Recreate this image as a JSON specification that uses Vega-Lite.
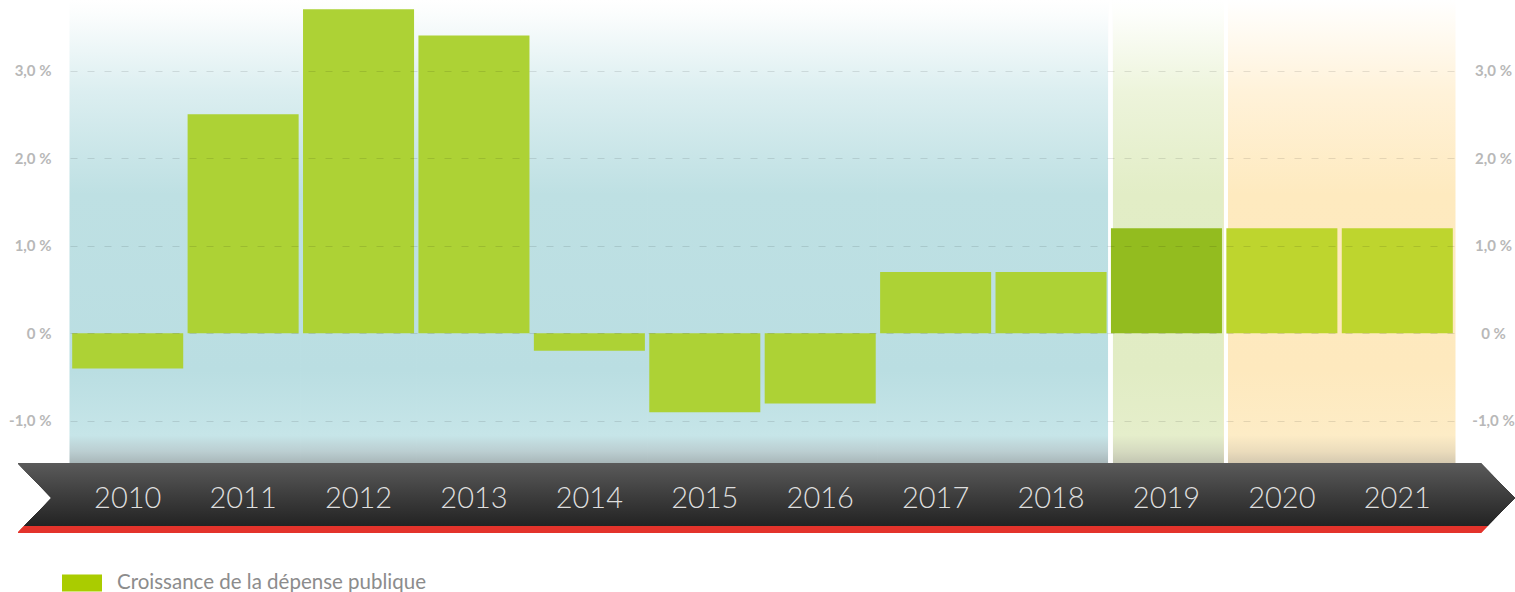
{
  "$schema": "https://vega.github.io/schema/vega-lite/v6.json",
  "width": 1385,
  "height": 463,
  "autosize": "none",
  "padding": {"left": 70, "top": 0, "right": 60, "bottom": 129},
  "background": "white",
  "config": {
    "view": {"stroke": null},
    "font": "Lato",
    "axisX": {"disable": true}
  },
  "data": {
    "values": [
      {"year": "2010", "value": -0.4, "period": "exécuté", "series": "Croissance de la dépense publique"},
      {"year": "2011", "value": 2.5, "period": "exécuté", "series": "Croissance de la dépense publique"},
      {"year": "2012", "value": 3.7, "period": "exécuté", "series": "Croissance de la dépense publique"},
      {"year": "2013", "value": 3.4, "period": "exécuté", "series": "Croissance de la dépense publique"},
      {"year": "2014", "value": -0.2, "period": "exécuté", "series": "Croissance de la dépense publique"},
      {"year": "2015", "value": -0.9, "period": "exécuté", "series": "Croissance de la dépense publique"},
      {"year": "2016", "value": -0.8, "period": "exécuté", "series": "Croissance de la dépense publique"},
      {"year": "2017", "value": 0.7, "period": "exécuté", "series": "Croissance de la dépense publique"},
      {"year": "2018", "value": 0.7, "period": "exécuté", "series": "Croissance de la dépense publique"},
      {"year": "2019", "value": 1.2, "period": "estimé", "series": "Croissance de la dépense publique"},
      {"year": "2020", "value": 1.2, "period": "prévu", "series": "Croissance de la dépense publique"},
      {"year": "2021", "value": 1.2, "period": "prévu", "series": "Croissance de la dépense publique"}
    ]
  },
  "encoding": {
    "x": {
      "field": "year",
      "type": "ordinal",
      "title": null,
      "scale": {"paddingInner": 0, "paddingOuter": 0}
    }
  },
  "layer": [
    {
      "transform": [{"filter": "datum.period == 'exécuté'"}],
      "mark": {
        "type": "rect",
        "strokeWidth": 1,
        "fill": {
          "gradient": "linear", "x1": 0, "y1": 0, "x2": 0, "y2": 1,
          "stops": [
            {"offset": 0, "color": "#ffffff"},
            {"offset": 0.03, "color": "#fbfdfd"},
            {"offset": 0.2, "color": "#dbeef0"},
            {"offset": 0.42, "color": "#bee0e3"},
            {"offset": 0.8, "color": "#badee2"},
            {"offset": 0.94, "color": "#c6e5e8"},
            {"offset": 0.975, "color": "#bbced1"},
            {"offset": 1, "color": "#a8b7b9"}
          ]
        },
        "stroke": {
          "gradient": "linear", "x1": 0, "y1": 0, "x2": 0, "y2": 1,
          "stops": [
            {"offset": 0, "color": "#ffffff"},
            {"offset": 0.03, "color": "#fbfdfd"},
            {"offset": 0.2, "color": "#dbeef0"},
            {"offset": 0.42, "color": "#bee0e3"},
            {"offset": 0.8, "color": "#badee2"},
            {"offset": 0.94, "color": "#c6e5e8"},
            {"offset": 0.975, "color": "#bbced1"},
            {"offset": 1, "color": "#a8b7b9"}
          ]
        }
      },
      "encoding": {
        "y": {"datum": 3.805, "type": "quantitative", "scale": {"domain": [-1.48, 3.805], "nice": false, "zero": false}, "axis": null},
        "y2": {"datum": -1.48}
      }
    },
    {
      "transform": [{"filter": "datum.period == 'estimé'"}],
      "mark": {
        "type": "rect",
        "fill": {
          "gradient": "linear", "x1": 0, "y1": 0, "x2": 0, "y2": 1,
          "stops": [
            {"offset": 0, "color": "#ffffff"},
            {"offset": 0.03, "color": "#fdfefb"},
            {"offset": 0.2, "color": "#edf4db"},
            {"offset": 0.42, "color": "#e2edc6"},
            {"offset": 0.8, "color": "#e1ecc4"},
            {"offset": 0.94, "color": "#e5eecb"},
            {"offset": 0.975, "color": "#d5dac0"},
            {"offset": 1, "color": "#c3c6b2"}
          ]
        }
      },
      "encoding": {
        "y": {"datum": 3.805, "type": "quantitative", "axis": null},
        "y2": {"datum": -1.48}
      }
    },
    {
      "transform": [{"filter": "datum.period == 'prévu'"}],
      "mark": {
        "type": "rect",
        "strokeWidth": 1,
        "fill": {
          "gradient": "linear", "x1": 0, "y1": 0, "x2": 0, "y2": 1,
          "stops": [
            {"offset": 0, "color": "#ffffff"},
            {"offset": 0.03, "color": "#fffdf9"},
            {"offset": 0.2, "color": "#fff2d9"},
            {"offset": 0.42, "color": "#feeabf"},
            {"offset": 0.8, "color": "#fee9be"},
            {"offset": 0.94, "color": "#fdecc6"},
            {"offset": 0.975, "color": "#ebdcbc"},
            {"offset": 1, "color": "#d5c9b0"}
          ]
        },
        "stroke": {
          "gradient": "linear", "x1": 0, "y1": 0, "x2": 0, "y2": 1,
          "stops": [
            {"offset": 0, "color": "#ffffff"},
            {"offset": 0.03, "color": "#fffdf9"},
            {"offset": 0.2, "color": "#fff2d9"},
            {"offset": 0.42, "color": "#feeabf"},
            {"offset": 0.8, "color": "#fee9be"},
            {"offset": 0.94, "color": "#fdecc6"},
            {"offset": 0.975, "color": "#ebdcbc"},
            {"offset": 1, "color": "#d5c9b0"}
          ]
        }
      },
      "encoding": {
        "y": {"datum": 3.805, "type": "quantitative", "axis": null},
        "y2": {"datum": -1.48}
      }
    },
    {
      "mark": {"type": "rule", "color": "#ffffff", "strokeWidth": 3.5, "xOffset": 1.75},
      "encoding": {
        "x": {"datum": "2019", "type": "ordinal", "bandPosition": 0, "title": null},
        "y": {"datum": 3.805, "type": "quantitative", "axis": null},
        "y2": {"datum": -1.48}
      }
    },
    {
      "mark": {"type": "rule", "color": "#ffffff", "strokeWidth": 3.5, "xOffset": 1.75},
      "encoding": {
        "x": {"datum": "2020", "type": "ordinal", "bandPosition": 0, "title": null},
        "y": {"datum": 3.805, "type": "quantitative", "axis": null},
        "y2": {"datum": -1.48}
      }
    },
    {
      "mark": {"type": "bar", "width": {"band": 0.962}},
      "encoding": {
        "y": {
          "field": "value",
          "type": "quantitative",
          "axis": {
            "orient": "left",
            "values": [-1, 0, 1, 2, 3],
            "labelExpr": "datum.value == 0 ? '0 %' : replace((datum.value < 0 ? '-' : '') + format(abs(datum.value), '.1f'), '.', ',') + ' %'",
            "grid": true,
            "gridDash": [7, 10],
            "gridColor": "#000000",
            "gridOpacity": 0.1,
            "domain": false,
            "ticks": false,
            "tickSize": 0,
            "labelPadding": 19,
            "labelFontSize": 15,
            "labelFontWeight": "bold",
            "labelColor": "#b8b8b8",
            "labelFont": "Lato",
            "title": null,
            "zindex": 1
          }
        },
        "color": {
          "field": "period",
          "type": "nominal",
          "scale": {"domain": ["exécuté", "estimé", "prévu"], "range": ["#add235", "#93bc1f", "#bed52e"]},
          "legend": null
        }
      }
    },
    {
      "mark": {"type": "rule", "opacity": 0},
      "encoding": {
        "y": {
          "field": "value",
          "type": "quantitative",
          "axis": {
            "orient": "right",
            "values": [-1, 0, 1, 2, 3],
            "labelExpr": "datum.value == 0 ? '0 %' : replace((datum.value < 0 ? '-' : '') + format(abs(datum.value), '.1f'), '.', ',') + ' %'",
            "grid": false,
            "domain": false,
            "ticks": false,
            "tickSize": 0,
            "labelPadding": 38,
            "labelAlign": "center",
            "labelFontSize": 15,
            "labelFontWeight": "bold",
            "labelColor": "#b8b8b8",
            "labelFont": "Lato",
            "title": null
          }
        }
      }
    },
    {
      "mark": {"type": "square", "opacity": 0, "size": 0},
      "encoding": {
        "y": {"datum": 0, "type": "quantitative", "axis": null},
        "fill": {
          "field": "series",
          "type": "nominal",
          "scale": {"range": ["#aacc00"]},
          "legend": {
            "orient": "none",
            "legendX": -8,
            "legendY": 563,
            "title": null,
            "padding": 0,
            "symbolType": "M-1,-0.42L1,-0.42L1,0.42L-1,0.42Z",
            "symbolSize": 1600,
            "symbolOpacity": 1,
            "symbolStrokeWidth": 0,
            "labelFontSize": 20.5,
            "labelColor": "#8c8c8c",
            "labelFont": "Lato",
            "labelOffset": 15,
            "labelLimit": 600
          }
        }
      }
    },
    {
      "mark": {
        "type": "point",
        "filled": true,
        "opacity": 1,
        "size": 4816,
        "shape": "M-21.46,-1L20.7,-1L21.68,0L20.7,1L-21.46,1L-20.49,0Z",
        "fill": {
          "gradient": "linear", "x1": 0, "y1": 0, "x2": 0, "y2": 1,
          "stops": [
            {"offset": 0, "color": "#5a5a5a"},
            {"offset": 0.45, "color": "#3e3e3e"},
            {"offset": 0.9, "color": "#232323"},
            {"offset": 0.905, "color": "#e3332b"},
            {"offset": 1, "color": "#e3332b"}
          ]
        }
      },
      "encoding": {
        "x": {"datum": "2015", "type": "ordinal", "bandPosition": 1, "title": null},
        "y": {"datum": -1.88, "type": "quantitative", "axis": null}
      }
    },
    {
      "mark": {"type": "text", "font": "Lato", "fontSize": 29, "fontWeight": 300, "color": "#dedede", "baseline": "middle", "align": "center", "dy": 1},
      "encoding": {
        "y": {"datum": -1.88, "type": "quantitative", "axis": null},
        "text": {"field": "year"}
      }
    }
  ],
  "resolve": {"scale": {"color": "independent", "fill": "independent"}, "axis": {"y": "independent"}}
}
